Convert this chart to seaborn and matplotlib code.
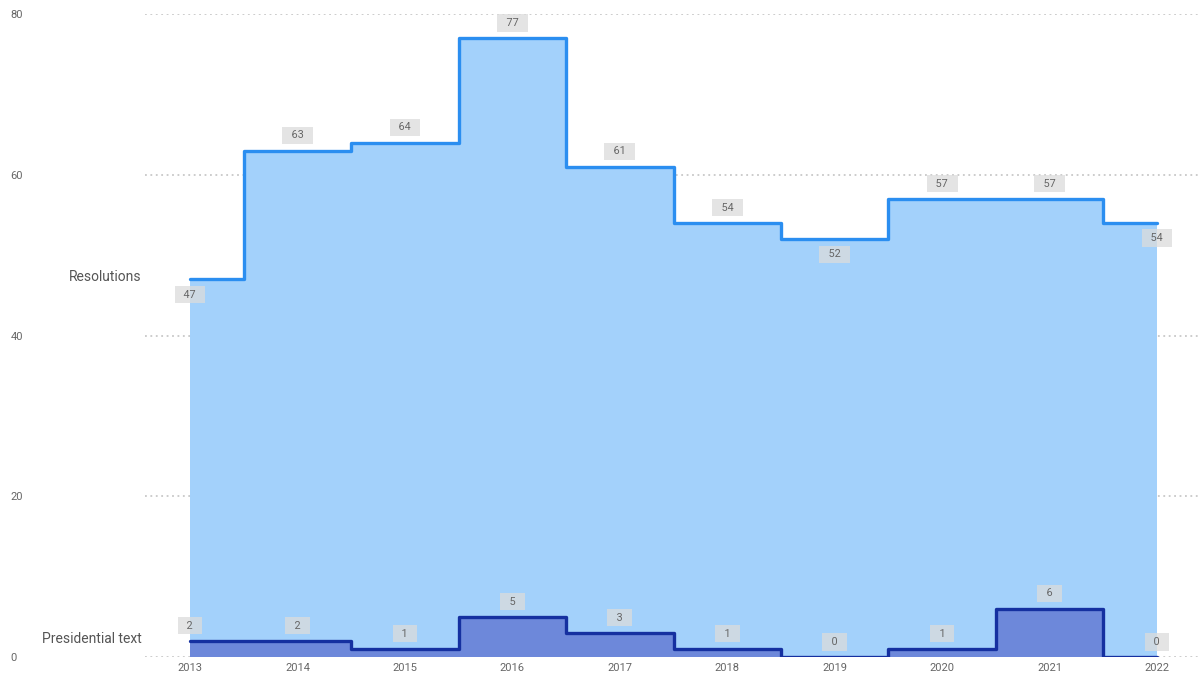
import matplotlib
matplotlib.use("Agg")
import matplotlib.pyplot as plt
import seaborn as sns
import pandas as pd

# data
years = [2013, 2014, 2015, 2016, 2017, 2018, 2019, 2020, 2021, 2022]
resolutions = [47, 63, 64, 77, 61, 54, 52, 57, 57, 54]
presidential = [2, 2, 1, 5, 3, 1, 0, 1, 6, 0]
y_ticks = [0, 20, 40, 60, 80]

# where the value boxes sit relative to the line (1 = above, -1 = below)
res_side = [-1, 1, 1, 1, 1, 1, -1, 1, 1, -1]
pres_side = [1] * len(years)

df = pd.DataFrame({"year": years, "Resolutions": resolutions, "Presidential text": presidential})

sns.set_style("white")
plt.rcParams["font.family"] = ["Roboto", "DejaVu Sans"]

fig = plt.figure(figsize=(11.98, 6.77), dpi=100)
ax = fig.add_axes([145 / 1198, 20 / 677, 1 - 145 / 1198, 643 / 677])

res_fill = "#a3d1fb"
res_line = "#2b8ef0"
pres_fill = "#6d88da"
pres_line = "#1530a0"

# gridlines behind everything
for t in y_ticks:
    ax.axhline(t, color="#c8c8c8", lw=1.3, ls=(0, (1, 2)), zorder=0)

ax.fill_between(df["year"], df["Resolutions"], step="mid", color=res_fill, lw=0, zorder=1)
ax.fill_between(df["year"], df["Presidential text"], step="mid", color=pres_fill, lw=0, zorder=2)
sns.lineplot(data=df, x="year", y="Resolutions", drawstyle="steps-mid", color=res_line,
             lw=2.4, ax=ax, zorder=3)
sns.lineplot(data=df, x="year", y="Presidential text", drawstyle="steps-mid", color=pres_line,
             lw=2.4, ax=ax, zorder=4)


def value_boxes(xs, vals, sides):
    for x, v, s in zip(xs, vals, sides):
        ax.annotate(f"  {v}  ", (x, v), xytext=(0, 11 * s), textcoords="offset points",
                    ha="center", va="center", fontsize=7.8, color="#666666", zorder=6,
                    bbox=dict(boxstyle="square,pad=0.35", fc="#dcdcdc", ec="none", alpha=0.75))


value_boxes(years, resolutions, res_side)
value_boxes(years, presidential, pres_side)

# series names to the left of the first step
ax.text(2013 - 0.45, resolutions[0] + 0.3, "Resolutions", ha="right", va="center",
        fontsize=10, color="#555555")
ax.text(2013 - 0.45, presidential[0] + 0.3, "Presidential text", ha="right", va="center",
        fontsize=10, color="#555555")

ax.set_xlim(2013 - 45 / 107.4, 2022 + 41 / 107.4)
ax.set_ylim(0, 80)
ax.set_xticks(years)
ax.set_xticklabels([str(y) for y in years])
ax.set_yticks(y_ticks)
ax.set_yticklabels([str(t) for t in y_ticks])
ax.tick_params(axis="y", length=0, pad=97, labelsize=8, labelcolor="#666666")
ax.tick_params(axis="x", length=0, pad=4, labelsize=8, labelcolor="#666666")
for lbl in ax.get_yticklabels():
    lbl.set_horizontalalignment("left")
ax.set_xlabel("")
ax.set_ylabel("")
sns.despine(ax=ax, left=True, bottom=True)

fig.savefig("out.png", dpi=100)
